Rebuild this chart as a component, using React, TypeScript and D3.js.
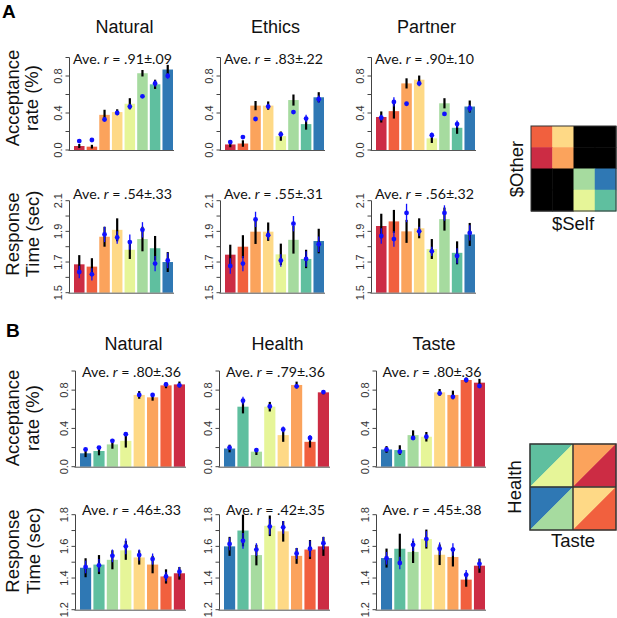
import React from "react";
import * as d3 from "d3";

// Spectral palette, red -> blue
const spectral = ["#cc2c44", "#f1603e", "#fba35c", "#fed986", "#e6f598", "#a6db9f", "#5fbf9f", "#2f78b4"];
const orderA = [0, 1, 2, 3, 4, 5, 6, 7];
const orderB = [7, 6, 5, 4, 3, 2, 1, 0];

const titlesA = ["Natural", "Ethics", "Partner"];
const titlesB = ["Natural", "Health", "Taste"];

const statAcc_A = [".91±.09", ".83±.22", ".90±.10"];
const statRt_A = [".54±.33", ".55±.31", ".56±.32"];
const statAcc_B = [".80±.36", ".79±.36", ".80±.36"];
const statRt_B = [".46±.33", ".42±.35", ".45±.38"];

const accTicks = [0, 0.2, 0.4, 0.6, 0.8, 1.0];
const accLabels = [0, 0.4, 0.8];
const rtTicksA = [1.5, 1.6, 1.7, 1.8, 1.9, 2.0, 2.1];
const rtLabelsA = [1.5, 1.7, 1.9, 2.1];
const rtTicksB = [1.2, 1.3, 1.4, 1.5, 1.6, 1.7, 1.8];
const rtLabelsB = [1.2, 1.4, 1.6, 1.8];

// ---- Panel A: acceptance rate ----
const aNatAccMean = [0.043, 0.036, 0.38, 0.41, 0.5, 0.83, 0.71, 0.87];
const aNatAccSe = [0.022, 0.02, 0.055, 0.03, 0.06, 0.035, 0.05, 0.05];
const aNatAccModel = [0.097, 0.108, 0.33, 0.4, 0.47, 0.58, 0.72, 0.8];
const aNatAccModelSe = [0.012, 0.012, 0.02, 0.025, 0.03, 0.012, 0.035, 0.03];

const aEthAccMean = [0.06, 0.07, 0.48, 0.48, 0.15, 0.54, 0.28, 0.57];
const aEthAccSe = [0.03, 0.035, 0.05, 0.045, 0.05, 0.06, 0.06, 0.055];
const aEthAccModel = [0.086, 0.14, 0.335, 0.47, 0.17, 0.41, 0.34, 0.55];
const aEthAccModelSe = [0.015, 0.02, 0.02, 0.03, 0.025, 0.02, 0.04, 0.04];

const aParAccMean = [0.357, 0.42, 0.72, 0.76, 0.126, 0.505, 0.24, 0.47];
const aParAccSe = [0.06, 0.08, 0.055, 0.045, 0.05, 0.055, 0.065, 0.065];
const aParAccModel = [0.35, 0.52, 0.5, 0.72, 0.16, 0.39, 0.28, 0.45];
const aParAccModelSe = [0.03, 0.05, 0.015, 0.03, 0.03, 0.02, 0.04, 0.04];

// ---- Panel A: response time ----
const aNatRtMean = [1.685, 1.67, 1.865, 1.91, 1.78, 1.85, 1.79, 1.7];
const aNatRtSe = [0.06, 0.055, 0.065, 0.075, 0.06, 0.08, 0.08, 0.065];
const aNatRtModel = [1.635, 1.62, 1.88, 1.86, 1.83, 1.91, 1.69, 1.71];
const aNatRtModelSe = [0.04, 0.04, 0.05, 0.04, 0.05, 0.05, 0.05, 0.05];

const aEthRtMean = [1.748, 1.8, 1.898, 1.898, 1.75, 1.845, 1.72, 1.837];
const aEthRtSe = [0.065, 0.075, 0.08, 0.06, 0.07, 0.09, 0.06, 0.08];
const aEthRtModel = [1.674, 1.69, 1.978, 1.875, 1.71, 1.95, 1.72, 1.816];
const aEthRtModelSe = [0.05, 0.05, 0.05, 0.03, 0.04, 0.05, 0.05, 0.05];

const aParRtMean = [1.935, 1.965, 1.9, 1.92, 1.785, 1.98, 1.76, 1.88];
const aParRtSe = [0.08, 0.075, 0.075, 0.065, 0.065, 0.075, 0.075, 0.075];
const aParRtModel = [1.87, 1.85, 2.02, 1.9, 1.77, 2.02, 1.74, 1.89];
const aParRtModelSe = [0.05, 0.05, 0.06, 0.03, 0.03, 0.05, 0.05, 0.05];

// ---- Panel B: acceptance rate ----
const bNatAccMean = [0.14, 0.164, 0.233, 0.27, 0.75, 0.725, 0.85, 0.86];
const bNatAccSe = [0.04, 0.045, 0.045, 0.07, 0.04, 0.035, 0.03, 0.03];
const bNatAccModel = [0.18, 0.2, 0.27, 0.34, 0.75, 0.75, 0.86, 0.85];
const bNatAccModelSe = [0.015, 0.015, 0.02, 0.02, 0.02, 0.02, 0.02, 0.02];

const bHeaAccMean = [0.19, 0.627, 0.157, 0.627, 0.33, 0.854, 0.26, 0.777];
const bHeaAccSe = [0.04, 0.07, 0.035, 0.05, 0.07, 0.035, 0.06, 0.02];
const bHeaAccModel = [0.2, 0.69, 0.174, 0.63, 0.39, 0.84, 0.3, 0.78];
const bHeaAccModelSe = [0.02, 0.04, 0.02, 0.025, 0.03, 0.02, 0.03, 0.015];

const bTasAccMean = [0.18, 0.174, 0.33, 0.313, 0.777, 0.75, 0.906, 0.878];
const bTasAccSe = [0.035, 0.05, 0.05, 0.05, 0.035, 0.045, 0.025, 0.04];
const bTasAccModel = [0.18, 0.157, 0.3, 0.313, 0.767, 0.73, 0.906, 0.843];
const bTasAccModelSe = [0.02, 0.02, 0.02, 0.02, 0.02, 0.02, 0.015, 0.02];

// ---- Panel B: response time ----
const bNatRtMean = [1.465, 1.485, 1.515, 1.575, 1.53, 1.485, 1.41, 1.43];
const bNatRtSe = [0.06, 0.06, 0.06, 0.06, 0.045, 0.055, 0.045, 0.04];
const bNatRtModel = [1.47, 1.48, 1.54, 1.6, 1.545, 1.52, 1.41, 1.44];
const bNatRtModelSe = [0.04, 0.04, 0.04, 0.05, 0.035, 0.035, 0.03, 0.03];

const bHeaRtMean = [1.6, 1.7, 1.545, 1.73, 1.695, 1.54, 1.58, 1.6];
const bHeaRtSe = [0.06, 0.1, 0.065, 0.065, 0.065, 0.05, 0.06, 0.06];
const bHeaRtModel = [1.615, 1.635, 1.58, 1.725, 1.72, 1.555, 1.585, 1.62];
const bHeaRtModelSe = [0.04, 0.05, 0.04, 0.05, 0.04, 0.035, 0.05, 0.04];

const bTasRtMean = [1.526, 1.585, 1.565, 1.646, 1.547, 1.533, 1.39, 1.478];
const bTasRtSe = [0.06, 0.095, 0.07, 0.06, 0.065, 0.06, 0.045, 0.045];
const bTasRtModel = [1.525, 1.495, 1.61, 1.646, 1.585, 1.58, 1.42, 1.49];
const bTasRtModelSe = [0.04, 0.04, 0.04, 0.05, 0.04, 0.04, 0.03, 0.03];

// legend A: spectral indices, -1 = black
const legendAGrid = [
  [1, 3, -1, -1],
  [0, 2, -1, -1],
  [-1, -1, 5, 7],
  [-1, -1, 4, 6],
];
// legend B: [upper-left triangle, lower-right triangle] per quadrant
const legendBGrid = [
  [[6, 4], [2, 0]],
  [[7, 5], [3, 1]],
];

const SANS = "'Liberation Sans', Arial, Helvetica, sans-serif";
const STAT = "Lato, 'Open Sans', sans-serif";

type PanelProps = {
  mean: number[];
  se: number[];
  model: number[];
  modelSe: number[];
  order: number[];
  x0: number;
  x1: number;
  yBase: number;
  yTop: number;
  domain: [number, number];
  ticks: number[];
  labels: number[];
  stat: string;
  statY: number;
};

function BarPanel(p: PanelProps) {
  const idx = d3.range(p.mean.length);
  const x = d3.scaleBand<number>().domain(idx).range([p.x0, p.x1]).paddingInner(1 / 6).paddingOuter(0);
  const y = d3.scaleLinear().domain(p.domain).range([p.yBase, p.yTop]);
  const axisX = p.x0 - 4.5;
  const fmt = d3.format(".1f");
  const bw = x.bandwidth();
  return (
    <g>
      {/* y axis */}
      <line x1={axisX} x2={axisX} y1={y(p.ticks[0])} y2={y(p.ticks[p.ticks.length - 1])} stroke="#444" strokeWidth={1} />
      {p.ticks.map((t) => (
        <line key={"t" + t} x1={axisX - 4} x2={axisX} y1={y(t)} y2={y(t)} stroke="#444" strokeWidth={1} />
      ))}
      {p.labels.map((t) => (
        <text
          key={"l" + t}
          transform={`translate(${axisX - 7.5},${y(t)}) rotate(-90)`}
          textAnchor="middle"
          fontFamily={SANS}
          fontSize={11}
          fill="#333"
        >
          {fmt(t)}
        </text>
      ))}
      {/* bars */}
      {idx.map((i) => (
        <rect
          key={"b" + i}
          x={x(i)}
          width={bw}
          y={y(p.mean[i])}
          height={y(p.domain[0]) - y(p.mean[i])}
          fill={spectral[p.order[i]]}
        />
      ))}
      <line x1={axisX - 1} x2={p.x1 + 1} y1={p.yBase + 0.5} y2={p.yBase + 0.5} stroke="#555" strokeWidth={1} />
      {/* data error bars */}
      {idx.map((i) => (
        <line
          key={"e" + i}
          x1={x(i)! + bw / 2}
          x2={x(i)! + bw / 2}
          y1={y(p.mean[i] - p.se[i])}
          y2={y(p.mean[i] + p.se[i])}
          stroke="#000"
          strokeWidth={2.2}
        />
      ))}
      {/* model predictions */}
      {idx.map((i) => (
        <g key={"m" + i}>
          <line
            x1={x(i)! + bw / 2}
            x2={x(i)! + bw / 2}
            y1={y(p.model[i] - p.modelSe[i])}
            y2={y(p.model[i] + p.modelSe[i])}
            stroke="#1010ff"
            strokeWidth={1.3}
          />
          <circle cx={x(i)! + bw / 2} cy={y(p.model[i])} r={2.4} fill="#1010ff" />
        </g>
      ))}
      <text x={(p.x0 + p.x1) / 2 - 1} y={p.statY} textAnchor="middle" fontFamily={STAT} fontSize={14.2} fill="#111">
        Ave. <tspan fontStyle="italic">r</tspan> = {p.stat}
      </text>
    </g>
  );
}

function RowLabel({ lines, cy, xs }: { lines: string[]; cy: number; xs: number[] }) {
  return (
    <g>
      {lines.map((s, i) => (
        <text
          key={s}
          transform={`translate(${xs[i]},${cy}) rotate(-90)`}
          textAnchor="middle"
          fontFamily={SANS}
          fontSize={18.5}
          fill="#111"
        >
          {s}
        </text>
      ))}
    </g>
  );
}

export default function App() {
  const barsA: [number, number][] = [[74, 173], [225, 324], [376, 475]];
  const barsB: [number, number][] = [[80, 185], [224, 329], [381, 485]];

  const accA = [
    [aNatAccMean, aNatAccSe, aNatAccModel, aNatAccModelSe],
    [aEthAccMean, aEthAccSe, aEthAccModel, aEthAccModelSe],
    [aParAccMean, aParAccSe, aParAccModel, aParAccModelSe],
  ];
  const rtA = [
    [aNatRtMean, aNatRtSe, aNatRtModel, aNatRtModelSe],
    [aEthRtMean, aEthRtSe, aEthRtModel, aEthRtModelSe],
    [aParRtMean, aParRtSe, aParRtModel, aParRtModelSe],
  ];
  const accB = [
    [bNatAccMean, bNatAccSe, bNatAccModel, bNatAccModelSe],
    [bHeaAccMean, bHeaAccSe, bHeaAccModel, bHeaAccModelSe],
    [bTasAccMean, bTasAccSe, bTasAccModel, bTasAccModelSe],
  ];
  const rtB = [
    [bNatRtMean, bNatRtSe, bNatRtModel, bNatRtModelSe],
    [bHeaRtMean, bHeaRtSe, bHeaRtModel, bHeaRtModelSe],
    [bTasRtMean, bTasRtSe, bTasRtModel, bTasRtModelSe],
  ];

  // legend A geometry
  const lgA = { x: 531, y: 126, s: 85 };
  const cellA = d3.scaleBand<number>().domain(d3.range(4)).range([0, lgA.s]);
  const lgB = { x: 530, y: 444, s: 86 };
  const cellB = d3.scaleBand<number>().domain(d3.range(2)).range([0, lgB.s]);
  const cb = cellB.bandwidth();

  return (
    <svg
      width={617}
      height={618}
      style={{ position: "absolute", left: 0, top: 0, background: "#fff" }}
    >
      <rect width={617} height={618} fill="#fff" />
      {/* panel letters */}
      <text x={2} y={18} fontFamily={SANS} fontWeight="bold" fontSize={19} fill="#000">A</text>
      <text x={6} y={337} fontFamily={SANS} fontWeight="bold" fontSize={19} fill="#000">B</text>

      {/* titles */}
      {titlesA.map((t, i) => (
        <text key={"ta" + t} x={(barsA[i][0] + barsA[i][1]) / 2 + 1} y={33} textAnchor="middle" fontFamily={SANS} fontSize={18} fill="#111">
          {t}
        </text>
      ))}
      {titlesB.map((t, i) => (
        <text key={"tb" + t} x={(barsB[i][0] + barsB[i][1]) / 2 + 1} y={350} textAnchor="middle" fontFamily={SANS} fontSize={18} fill="#111">
          {t}
        </text>
      ))}

      <RowLabel lines={["Acceptance", "rate (%)"]} cy={98} xs={[18.5, 38]} />
      <RowLabel lines={["Response", "Time (sec)"]} cy={234} xs={[19, 38.5]} />
      <RowLabel lines={["Acceptance", "rate (%)"]} cy={418} xs={[19, 39]} />
      <RowLabel lines={["Response", "Time (sec)"]} cy={551} xs={[19, 39.5]} />

      {accA.map((d, i) => (
        <BarPanel key={"aa" + i} mean={d[0]} se={d[1]} model={d[2]} modelSe={d[3]} order={orderA}
          x0={barsA[i][0]} x1={barsA[i][1]} yBase={150} yTop={57.5} domain={[0, 1]}
          ticks={accTicks} labels={accLabels} stat={statAcc_A[i]} statY={63.5} />
      ))}
      {rtA.map((d, i) => (
        <BarPanel key={"ar" + i} mean={d[0]} se={d[1]} model={d[2]} modelSe={d[3]} order={orderA}
          x0={barsA[i][0]} x1={barsA[i][1]} yBase={292.7} yTop={200.7} domain={[1.5, 2.1]}
          ticks={rtTicksA} labels={rtLabelsA} stat={statRt_A[i]} statY={199} />
      ))}
      {accB.map((d, i) => (
        <BarPanel key={"ba" + i} mean={d[0]} se={d[1]} model={d[2]} modelSe={d[3]} order={orderB}
          x0={barsB[i][0]} x1={barsB[i][1]} yBase={466.7} yTop={371} domain={[0, 1]}
          ticks={accTicks} labels={accLabels} stat={statAcc_B[i]} statY={376.5} />
      ))}
      {rtB.map((d, i) => (
        <BarPanel key={"br" + i} mean={d[0]} se={d[1]} model={d[2]} modelSe={d[3]} order={orderB}
          x0={barsB[i][0]} x1={barsB[i][1]} yBase={609.7} yTop={514.7} domain={[1.2, 1.8]}
          ticks={rtTicksB} labels={rtLabelsB} stat={statRt_B[i]} statY={515} />
      ))}

      {/* legend A */}
      <g transform={`translate(${lgA.x},${lgA.y})`}>
        {legendAGrid.map((row, r) =>
          row.map((c, k) => (
            <rect key={`la${r}${k}`} x={cellA(k)} y={cellA(r)} width={cellA.bandwidth() + 0.5} height={cellA.bandwidth() + 0.5}
              fill={c < 0 ? "#000" : spectral[c]} />
          ))
        )}
        <rect x={0} y={0} width={lgA.s} height={lgA.s} fill="none" stroke="#333" strokeWidth={1} />
      </g>
      <text transform={`translate(${523},${169}) rotate(-90)`} textAnchor="middle" fontFamily={SANS} fontSize={18.5} fill="#111">$Other</text>
      <text x={573} y={230} textAnchor="middle" fontFamily={SANS} fontSize={18.5} fill="#111">$Self</text>

      {/* legend B */}
      <g transform={`translate(${lgB.x},${lgB.y})`}>
        {legendBGrid.map((row, r) =>
          row.map((pair, k) => {
            const x0 = cellB(k)!, y0 = cellB(r)!;
            const ul = `M${x0},${y0}L${x0 + cb},${y0}L${x0},${y0 + cb}Z`;
            const lr = `M${x0 + cb},${y0}L${x0 + cb},${y0 + cb}L${x0},${y0 + cb}Z`;
            return (
              <g key={`lb${r}${k}`}>
                <path d={ul} fill={spectral[pair[0]]} stroke={spectral[pair[0]]} strokeWidth={0.5} />
                <path d={lr} fill={spectral[pair[1]]} stroke={spectral[pair[1]]} strokeWidth={0.5} />
              </g>
            );
          })
        )}
        <line x1={lgB.s / 2} x2={lgB.s / 2} y1={0} y2={lgB.s} stroke="#333" strokeWidth={1.5} />
        <line x1={0} x2={lgB.s} y1={lgB.s / 2} y2={lgB.s / 2} stroke="#333" strokeWidth={1.5} />
        <rect x={0} y={0} width={lgB.s} height={lgB.s} fill="none" stroke="#333" strokeWidth={1.5} />
      </g>
      <text transform={`translate(${521},${487}) rotate(-90)`} textAnchor="middle" fontFamily={SANS} fontSize={18.5} fill="#111">Health</text>
      <text x={573} y={547} textAnchor="middle" fontFamily={SANS} fontSize={18.5} fill="#111">Taste</text>
    </svg>
  );
}
